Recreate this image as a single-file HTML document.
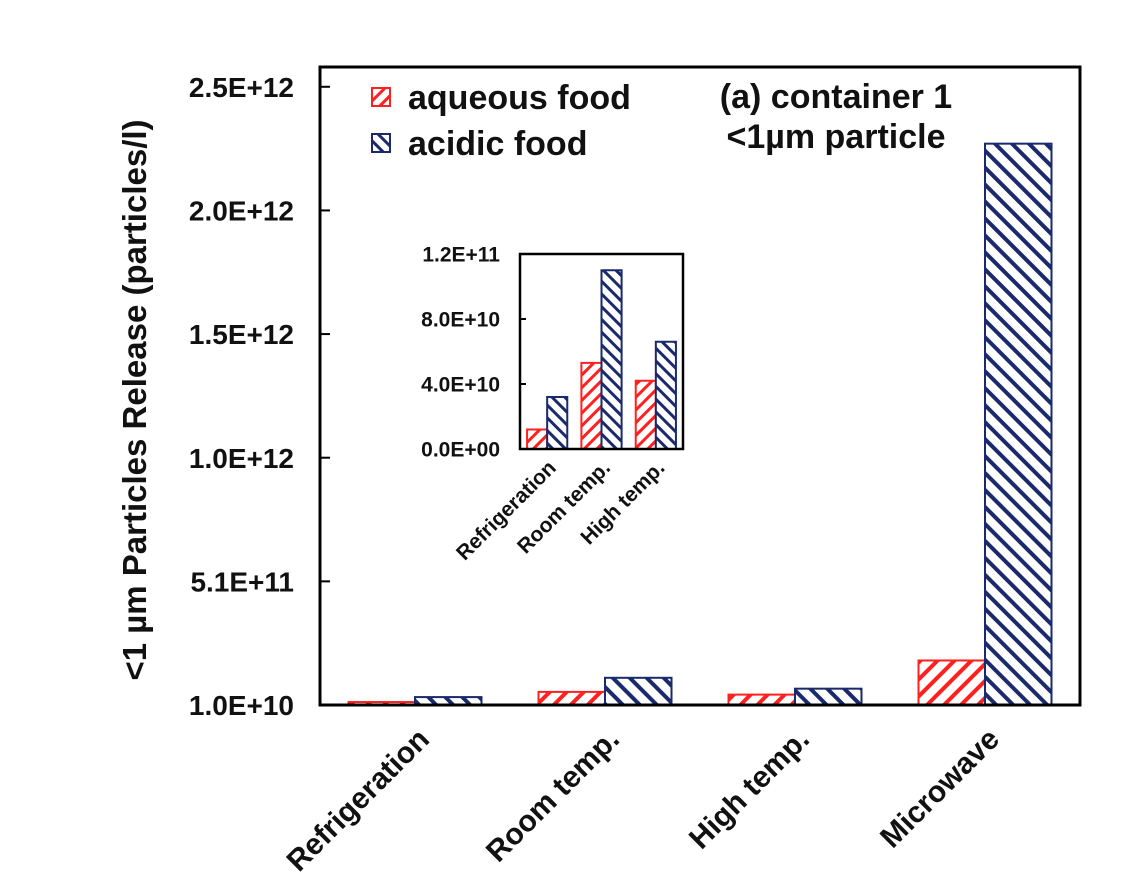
<!DOCTYPE html>
<html><head><meta charset="utf-8"><style>
html,body{margin:0;padding:0;background:#fff;}
svg{display:block;font-family:"Liberation Sans",Arial,sans-serif;font-weight:bold;}
</style></head><body>
<svg id="chart" width="1134" height="888" viewBox="0 0 1134 888" xmlns="http://www.w3.org/2000/svg">
<defs>
<pattern id="hRed" patternUnits="userSpaceOnUse" width="12" height="12" patternTransform="rotate(45)">
<rect width="12" height="12" fill="#fff"/><rect x="0" y="0" width="4" height="12" fill="#ff2020"/></pattern>
<pattern id="hBlue" patternUnits="userSpaceOnUse" width="12" height="12" patternTransform="rotate(-45)">
<rect width="12" height="12" fill="#fff"/><rect x="0" y="0" width="4" height="12" fill="#1a2a6c"/></pattern>
<pattern id="hRedS" patternUnits="userSpaceOnUse" width="9" height="9" patternTransform="rotate(45)">
<rect width="9" height="9" fill="#fff"/><rect x="0" y="0" width="3" height="9" fill="#ff2020"/></pattern>
<pattern id="hBlueS" patternUnits="userSpaceOnUse" width="9" height="9" patternTransform="rotate(-45)">
<rect width="9" height="9" fill="#fff"/><rect x="0" y="0" width="3" height="9" fill="#1a2a6c"/></pattern>
</defs>
<g id="main"></g>
<g id="inset"></g>
<text x="0" y="0" transform="translate(146,400) rotate(-90)" text-anchor="middle" font-size="33" fill="#111">&lt;1 µm Particles Release (particles/l)</text>
<rect x="372" y="88" width="18" height="18" fill="url(#hRedS)" stroke="#ff2020" stroke-width="2"/>
<text x="408" y="109" font-size="34" fill="#111">aqueous food</text>
<rect x="372" y="134" width="18" height="18" fill="url(#hBlueS)" stroke="#1a2a6c" stroke-width="2"/>
<text x="408" y="155" font-size="34" fill="#111">acidic food</text>
<text x="836" y="108" text-anchor="middle" font-size="34" fill="#111">(a) container 1</text>
<text x="836" y="148" text-anchor="middle" font-size="34" fill="#111">&lt;1µm particle</text>
</svg>
<script>
const categories = ["Refrigeration","Room temp.","High temp.","Microwave"];
const aqueous = [1.2e10, 5.3e10, 4.2e10, 1.8e11];
const acidic = [3.2e10, 1.1e11, 6.6e10, 2.27e12];
const yTicks = [0, 0.5e12, 1.0e12, 1.5e12, 2.0e12, 2.5e12];
const yTickLabels = ["1.0E+10","5.1E+11","1.0E+12","1.5E+12","2.0E+12","2.5E+12"];
const insetCategories = ["Refrigeration","Room temp.","High temp."];
const insetAqueous = [1.2e10, 5.3e10, 4.2e10];
const insetAcidic = [3.2e10, 1.1e11, 6.6e10];
const insetTicks = [0, 4e10, 8e10, 1.2e11];
const insetTickLabels = ["0.0E+00","4.0E+10","8.0E+10","1.2E+11"];

const NS="http://www.w3.org/2000/svg";
function mk(tag, attrs, parent){const e=document.createElementNS(NS,tag);for(const k in attrs)e.setAttribute(k,attrs[k]);parent.appendChild(e);return e;}

function drawChart(g, cfg){
  const {L,R,T,B,yMax,cats,a,b,ticks,tickLabels,fs,pa,pb,sw,catFs,labelDy,prefix}=cfg;
  const y=v=>B-(v/yMax)*(B-T);
  const band=(R-L)/cats.length;
  const bw=band*cfg.barFrac;
  const x=i=>L+band*(i+0.5);
  cats.forEach((c,i)=>{
    const ra=mk('rect',{x:x(i)-bw,y:y(a[i]),width:bw,height:B-y(a[i]),fill:`url(#${pa})`,stroke:'#ff2020','stroke-width':sw},g);
    
    
    const rb=mk('rect',{x:x(i),y:y(b[i]),width:bw,height:B-y(b[i]),fill:`url(#${pb})`,stroke:'#1a2a6c','stroke-width':sw},g);
    
    
    const t=mk('text',{x:0,y:0,transform:`translate(${x(i)+labelDy[0]},${B+labelDy[1]}) rotate(-45)`,'text-anchor':'end','font-size':catFs,fill:'#111'},g);
    t.textContent=c;
    
    
  });
  const f=mk('rect',{x:L,y:T,width:R-L,height:B-T,fill:'none',stroke:'#000','stroke-width':cfg.fw},g);
  
  
  ticks.forEach((v,i)=>{
    const tk=mk('line',{x1:L,x2:L+cfg.tl,y1:y(v),y2:y(v),stroke:'#000','stroke-width':2},g);
    
    
    const t=mk('text',{x:L-cfg.lg,y:y(v)+fs*0.36,'text-anchor':'end','font-size':fs,fill:'#111'},g);
    t.textContent=tickLabels[i];
    
    
  });
}
drawChart(document.getElementById('main'),{L:320,R:1080,T:67,B:705,yMax:2.58e12,cats:categories,a:aqueous,b:acidic,ticks:yTicks,tickLabels:yTickLabels,fs:28,pa:'hRed',pb:'hBlue',sw:2,catFs:30,labelDy:[16,36],barFrac:0.35,fw:3,tl:10,lg:26,prefix:'main-'});
drawChart(document.getElementById('inset'),{L:520,R:683,T:254,B:449,yMax:1.2e11,cats:insetCategories,a:insetAqueous,b:insetAcidic,ticks:insetTicks,tickLabels:insetTickLabels,fs:21,pa:'hRedS',pb:'hBlueS',sw:2,catFs:21,labelDy:[10,20],barFrac:0.37,fw:2.5,tl:6,lg:20,prefix:'inset-'});
</script>
</body></html>
